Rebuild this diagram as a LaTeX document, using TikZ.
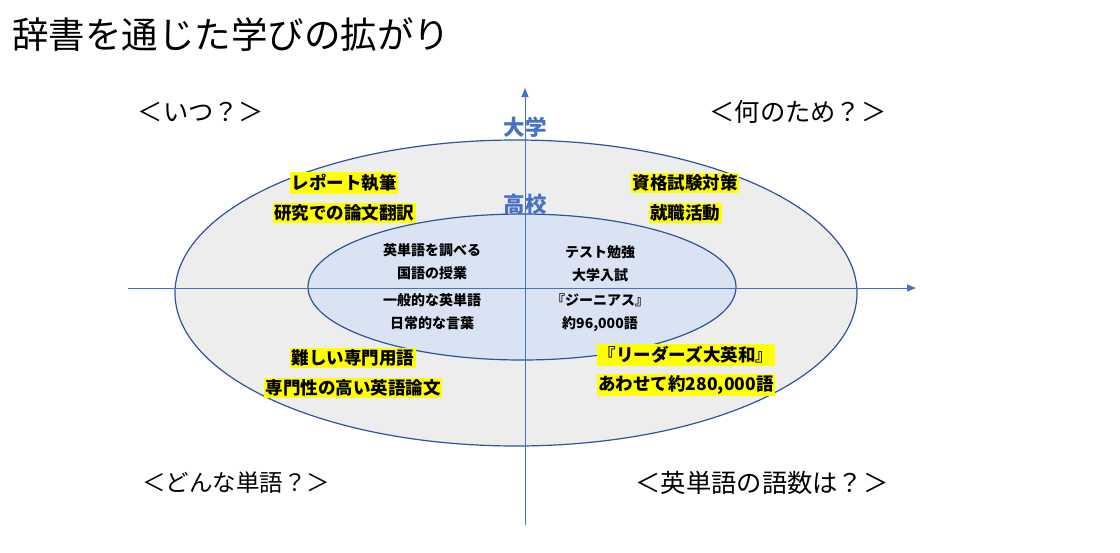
\documentclass[tikz,border=0pt]{standalone}
\usepackage{fontspec}
\setmainfont{Noto Sans CJK JP}
\usetikzlibrary{arrows.meta}
\definecolor{ringblue}{HTML}{2F5597}
\definecolor{axisblue}{HTML}{4472C4}
\definecolor{outerfill}{HTML}{EDEDED}
\definecolor{innerfill}{HTML}{DAE3F3}
\definecolor{hl}{HTML}{FFFF00}
\tikzset{
  ring/.style={draw=ringblue, line width=1.2pt},
  axis/.style={draw=axisblue, line width=0.9pt, -{Triangle[length=9pt,width=7pt]}},
  title/.style={font=\fontsize{36.5}{40}\selectfont, inner sep=0pt, anchor=west},
  corner/.style={font=\fontsize{25.3}{29}\selectfont, inner sep=0pt},
  hlbox/.style={fill=hl, font=\fontsize{17.5}{20}\selectfont\bfseries, inner xsep=1.5pt, inner ysep=2pt},
  innertext/.style={font=\fontsize{14}{16}\selectfont\bfseries, inner sep=0pt},
  level/.style={text=axisblue, font=\fontsize{21.5}{24}\selectfont\bfseries, inner sep=0pt}
}
\begin{document}
\begin{tikzpicture}[x=1pt,y=-1pt]
\useasboundingbox (0,0) rectangle (1120,552);
% ellipses
\path[ring, fill=outerfill] (516,293) ellipse [x radius=341pt, y radius=153pt];
\path[ring, fill=innerfill] (522,287) ellipse [x radius=214pt, y radius=73pt];
% axes
\coordinate (vbot) at (525,525);
\coordinate (vtop) at (525,88);
\coordinate (hleft) at (128,288);
\coordinate (hright) at (916,288);
\draw[axis] (vbot) -- (vtop);
\draw[axis] (hleft) -- (hright);
% title
\node[title] (ttl) at (12,35) {辞書を通じた学びの拡がり};
% corners
\node[corner] (c1) at (201,112) {＜いつ？＞};
\node[corner] (c2) at (798,112) {＜何のため？＞};
\node[corner, font=\fontsize{23.5}{28}\selectfont] (c3) at (236,483) {＜どんな単語？＞};
\node[corner] (c4) at (762,483) {＜英単語の語数は？＞};
% levels
\node[level] (univ) at (525,127) {大学};
\node[level] (hs) at (525,204) {高校};
% highlights
\node[hlbox] (h1) at (344,183) {レポート執筆};
\node[hlbox] (h2) at (344,213) {研究での論文翻訳};
\node[hlbox] (h3) at (685,183) {資格試験対策};
\node[hlbox] (h4) at (685,213) {就職活動};
\node[hlbox] (h5) at (353,358) {難しい専門用語};
\node[hlbox] (h6) at (353,388) {専門性の高い英語論文};
\node[hlbox] (h7) at (686,355) {『リーダーズ大英和』};
\node[hlbox] (h8) at (686,385) {あわせて約280,000語};
% inner texts
\node[innertext] (i1) at (432,250) {英単語を調べる};
\node[innertext] (i2) at (432,273) {国語の授業};
\node[innertext] (i3) at (432,300) {一般的な英単語};
\node[innertext] (i4) at (432,323) {日常的な言葉};
\node[innertext] (i5) at (600,252) {テスト勉強};
\node[innertext] (i6) at (600,275) {大学入試};
\node[innertext] (i7) at (600,300) {『ジーニアス』};
\node[innertext] (i8) at (600,324) {約96,000語};
\end{tikzpicture}
\end{document}
